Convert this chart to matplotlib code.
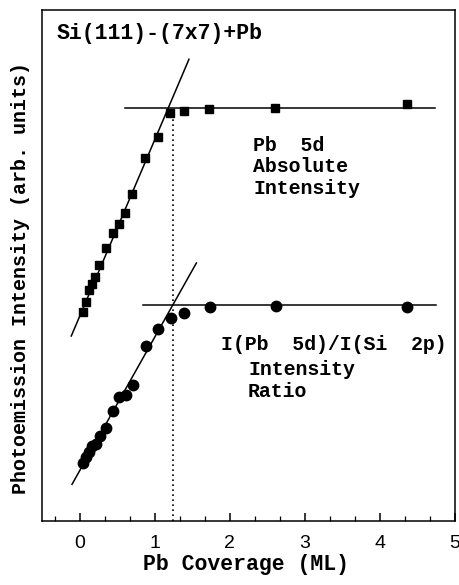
import matplotlib
matplotlib.use('Agg')
import matplotlib.pyplot as plt
from matplotlib.ticker import MultipleLocator
import numpy as np

# Pb 5d absolute intensity (squares)
abs_x = [0.04, 0.09, 0.13, 0.17, 0.21, 0.26, 0.35, 0.44, 0.52, 0.61, 0.70, 0.87, 1.04, 1.21, 1.39, 1.73, 2.60, 4.36]
abs_y = [209, 219, 231, 237, 244, 256, 273, 288, 297.5, 308.5, 327, 363, 384, 408, 410.5, 411.7, 412.7, 416.7]

# I(Pb 5d)/I(Si 2p) ratio (circles)
rat_x = [0.04, 0.09, 0.13, 0.17, 0.22, 0.27, 0.35, 0.44, 0.52, 0.62, 0.71, 0.88, 1.04, 1.22, 1.39, 1.74, 2.61, 4.36]
rat_y = [58.3, 64, 69.3, 75, 77, 85.3, 93, 110, 124.3, 126, 136, 175, 192.5, 203, 207.7, 213.7, 215.3, 214.3]

# fit lines
abs_rise_x = [-0.11, 1.457]
abs_rise_y = [185, 461.7]
abs_flat_x = [0.61, 4.73]
abs_flat_y = [412.7, 412.7]
rat_rise_x = [-0.10, 1.556]
rat_rise_y = [36.7, 258]
rat_flat_x = [0.84, 4.75]
rat_flat_y = [216, 216]
ml_x = 1.245
ml_top = 406

mono = 'Liberation Mono'

fig = plt.figure(figsize=(4.59, 5.85), dpi=100)
ax = fig.add_axes([42/459, 64/585, 413/459, 511/585])

ax.plot(abs_rise_x, abs_rise_y, color='k', lw=1.1)
ax.plot(abs_flat_x, abs_flat_y, color='k', lw=1.1)
ax.plot(rat_rise_x, rat_rise_y, color='k', lw=1.1)
ax.plot(rat_flat_x, rat_flat_y, color='k', lw=1.1)
ax.plot([ml_x, ml_x], [0, ml_top], color='k', lw=1.2, ls=(0, (1, 2)))

ax.plot(abs_x, abs_y, 's', color='k', ms=6)
ax.plot(rat_x, rat_y, 'o', color='k', ms=7.5)

ax.set_xlim(-0.5, 5)
ax.set_ylim(0, 511)
ax.set_yticks([])
ax.xaxis.set_major_locator(MultipleLocator(1))
ax.xaxis.set_minor_locator(MultipleLocator(1/3))
ax.tick_params(axis='x', which='major', direction='in', length=5.8, width=1.1,
               pad=10, labelsize=14)
ax.tick_params(axis='x', which='minor', direction='in', length=3.6, width=0.9)
for lab in ax.get_xticklabels():
    lab.set_family('Liberation Sans')
for s in ax.spines.values():
    s.set_linewidth(1.1)

ax.text(-0.31, 487, 'Si(111)-(7x7)+Pb', family=mono, weight='bold', fontsize=15.5,
        va='center', ha='left')
ax.text(2.31, 354, 'Pb  5d\nAbsolute\nIntensity', family=mono, weight='bold',
        fontsize=14.3, va='center', ha='left', linespacing=1.18)
ax.text(1.89, 176, 'I(Pb  5d)/I(Si  2p)', family=mono, weight='bold', fontsize=14.3,
        va='center', ha='left')
ax.text(2.244, 140.5, 'Intensity\nRatio', family=mono, weight='bold', fontsize=14.3,
        va='center', ha='left', linespacing=1.23)

ax.set_xlabel('Pb Coverage (ML)', family=mono, weight='bold', fontsize=15.5)
ax.set_ylabel('Photoemission Intensity (arb. units)', family=mono, weight='bold', fontsize=14.4)
ax.xaxis.set_label_coords(0.4935, -0.086)
ax.yaxis.set_label_coords(-0.053, 0.4765)
ax.xaxis.label.set_verticalalignment('center')
ax.yaxis.label.set_verticalalignment('center')

fig.savefig('out.png', dpi=100)
